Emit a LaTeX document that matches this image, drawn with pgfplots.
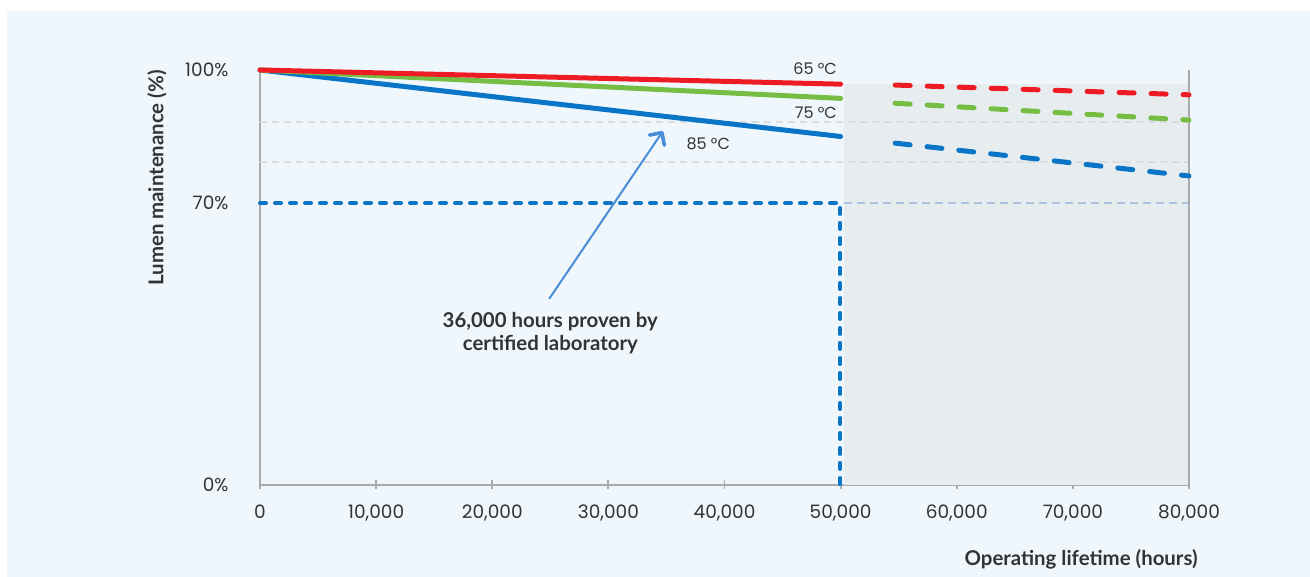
\documentclass[border=0pt]{standalone}
\usepackage{fontspec}
\setmainfont{Poppins}
\newfontfamily\lato{Lato}
\usepackage{pgfplots}
\pgfplotsset{compat=1.18}
\usetikzlibrary{arrows.meta}
\definecolor{bgpanel}{RGB}{239,247,253}
\definecolor{shadegray}{RGB}{231,236,239}
\definecolor{axisgray}{RGB}{170,170,170}
\definecolor{gridgray}{RGB}{218,221,223}
\definecolor{lightblue}{RGB}{168,194,223}
\definecolor{cred}{RGB}{237,28,36}
\definecolor{cgreen}{RGB}{118,190,67}
\definecolor{cblue}{RGB}{8,117,198}
\definecolor{arrowblue}{RGB}{74,141,214}
\definecolor{txt}{RGB}{51,51,51}
\begin{document}
\begin{tikzpicture}
\path[use as bounding box, fill=white] (0,0) rectangle (655pt,288.5pt);
\fill[bgpanel] (3.5pt,0) rectangle (655pt,283pt);
\begin{axis}[
  at={(130pt,46pt)}, anchor=south west,
  scale only axis, width=464.5pt, height=207.5pt,
  xmin=0, xmax=80000, ymin=0, ymax=100,
  y coord trafo/.code={\pgfmathparse{(#1<=70)?(#1):(70+(#1-70)*1.1005)}},
  y coord inv trafo/.code={\pgfmathparse{(#1<=70)?(#1):(70+(#1-70)/1.1005)}},
  axis x line=bottom, axis y line=left,
  axis line style={-, draw=axisgray, line width=0.9pt},
  clip=false,
  xtick={0,10000,20000,30000,40000,50000,60000,70000,80000},
  scaled x ticks=false,
  ytick={0,70,100},
  yticklabels={0\%,70\%,100\%},
  tick align=center,
  major tick length=4.5pt,
  x tick style={draw=axisgray, line width=0.9pt},
  y tick style={draw=none},
  /pgf/number format/.cd, 1000 sep={,}, assume math mode=true,
  /pgfplots/.cd,
  xticklabel style={font=\fontsize{9.25}{11}\selectfont, text=txt, yshift=-4pt},
  yticklabel style={font=\fontsize{9.25}{11}\selectfont, text=txt, xshift=-10pt},
]
% shaded projection region
\fill[shadegray] (axis cs:50250,0) rectangle (axis cs:80000,96.95);
% light dashed reference lines
\addplot[gridgray, line width=1pt, dash pattern=on 3.5pt off 2.5pt] coordinates {(0,88.3) (80000,88.3)};
\addplot[gridgray, line width=1pt, dash pattern=on 3.5pt off 2.5pt] coordinates {(0,79.2) (80000,79.2)};
\addplot[lightblue, line width=0.8pt, dash pattern=on 4pt off 2.5pt] coordinates {(50250,70) (80000,70)};
% 70% / 50,000 h marker
\addplot[cblue, line width=2pt, line cap=round, dash pattern=on 3pt off 4.5pt] coordinates {(0,70) (49950,70) (49950,0)};
% right frame line
\addplot[axisgray, line width=0.9pt] coordinates {(80000,0) (80000,100)};
% measured (solid)
\addplot[cblue, line width=2.5pt, line cap=round] coordinates {(0,100) (50000,85.0)};
\addplot[cgreen, line width=2.5pt, line cap=round] coordinates {(0,100) (50000,93.6)};
\addplot[cred, line width=2.5pt, line cap=round] coordinates {(0,100) (50000,96.8)};
% projected (dashed)
\addplot[cblue, line width=2.5pt, line cap=round, dash pattern=on 7.5pt off 8.5pt] coordinates {(54700,83.5) (80000,76.1)};
\addplot[cgreen, line width=2.5pt, line cap=round, dash pattern=on 7.5pt off 8.5pt] coordinates {(54700,92.5) (80000,88.7)};
\addplot[cred, line width=2.5pt, line cap=round, dash pattern=on 7.5pt off 8.5pt] coordinates {(54700,96.6) (80000,94.4)};
% labels
\node[anchor=east, text=txt, font=\fontsize{8}{9}\selectfont, inner sep=0pt] at (axis cs:49700,100.2) {65 °C};
\node[anchor=east, text=txt, font=\fontsize{8}{9}\selectfont, inner sep=0pt] at (axis cs:49700,90.3) {75 °C};
\node[anchor=west, text=txt, font=\fontsize{8}{9}\selectfont, inner sep=0pt] at (axis cs:36700,83.3) {85 °C};
\draw[arrowblue, line width=1pt, -{Straight Barb[length=4.5pt, width=9pt, line width=1.8pt, round]}] (axis cs:24900,46.2) -- (axis cs:34700,86.2);
\node[align=center, text=txt, font=\lato\bfseries\fontsize{10.2}{11.5}\selectfont] at (axis cs:25000,37.6) {36,000 hours proven by\\certified laboratory};
\end{axis}
\node[rotate=90, text=txt, font=\lato\bfseries\fontsize{10.2}{11}\selectfont] at (78.5pt,199.5pt) {Lumen maintenance (\%)};
\node[anchor=east, text=txt, font=\lato\bfseries\fontsize{10.2}{11}\selectfont, inner sep=0pt] at (599pt,9pt) {Operating lifetime (hours)};
\end{tikzpicture}
\end{document}
